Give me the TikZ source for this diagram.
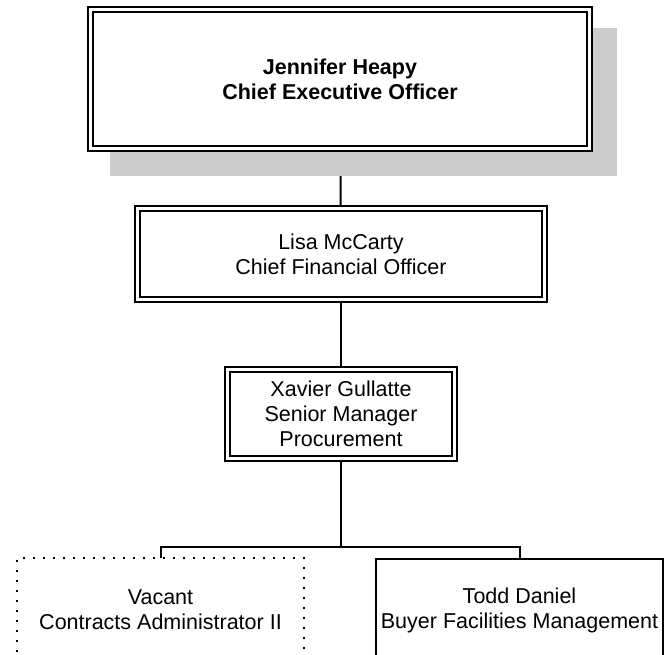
\documentclass[tikz,border=0pt]{standalone}
\usepackage{fontspec}
\setmainfont{Liberation Sans}
\pgfdeclarelayer{bg}
\pgfsetlayers{bg,main}
\definecolor{shadowgray}{RGB}{204,204,204}
\begin{document}
\begin{tikzpicture}[x=1pt,y=-1pt,
  orgtext/.style={font=\fontsize{21.5}{25}\selectfont, align=center, inner sep=0pt},
  dbox/.style={orgtext, draw, fill=white, double=white, line width=1.7pt, double distance=3.3pt},
  plainbox/.style={orgtext, draw, fill=white, line width=2pt},
  vacantbox/.style={orgtext, draw, fill=white, line width=1.6pt, dash pattern=on 1.6pt off 8.4pt},
  conn/.style={draw, line width=2pt}
]
\useasboundingbox (0,0) rectangle (666,654);
\clip (0,0) rectangle (666,654);

% drop shadow behind the chief executive
\fill[shadowgray] (110,28) rectangle (617,176);

\node[dbox, minimum width=499.5pt, minimum height=139pt] (ceo) at (340,79)
  {\textbf{Jennifer Heapy}\\\textbf{Chief Executive Officer}};
\node[dbox, minimum width=407pt, minimum height=91pt] (cfo) at (341,254)
  {Lisa McCarty\\Chief Financial Officer};
\node[dbox, minimum width=227pt, minimum height=89.5pt] (xav) at (341,414)
  {Xavier Gullatte\\Senior Manager\\Procurement};
\node[vacantbox, minimum width=287pt, minimum height=104pt] (vac) at (160.5,610)
  {Vacant\\Contracts Administrator II};
\node[plainbox, minimum width=287pt, minimum height=102pt] (tod) at (519.5,610)
  {Todd Daniel\\Buyer Facilities Management};

\coordinate (bar) at (341,547);

\begin{pgfonlayer}{bg}
  \draw[conn] (ceo.center) -- (cfo.center);
  \draw[conn] (cfo.center) -- (xav.center);
  \draw[conn] (xav.center) -- (bar);
  \draw[conn] (vac.center) -- (vac.center |- bar) -- (tod.center |- bar) -- (tod.center);
\end{pgfonlayer}
\end{tikzpicture}
\end{document}
